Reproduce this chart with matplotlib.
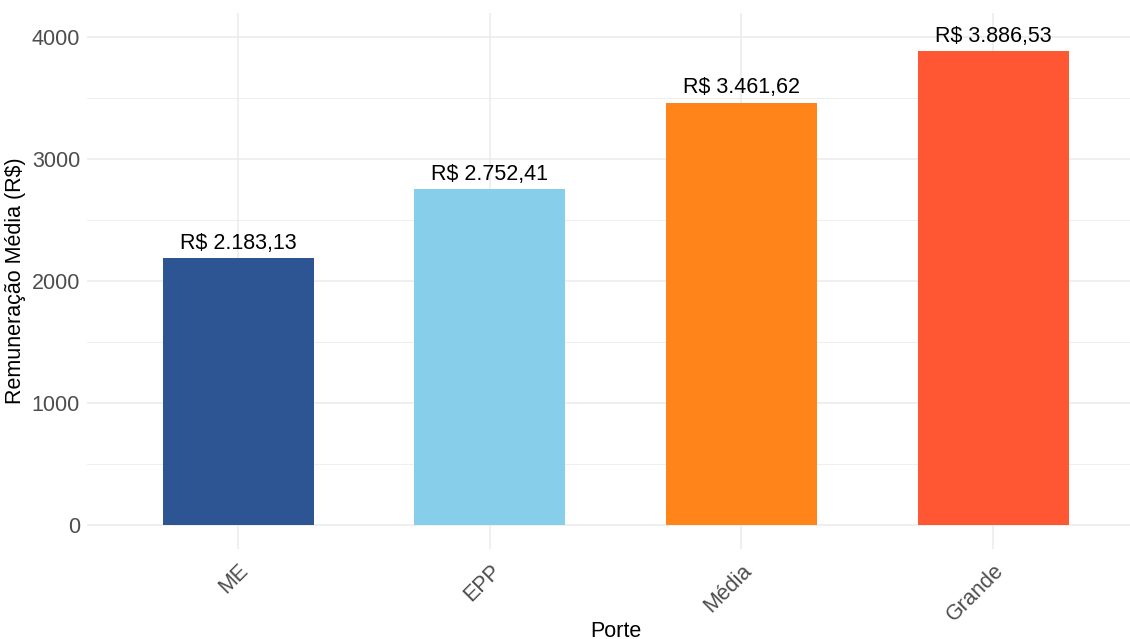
import matplotlib
matplotlib.use("Agg")
import matplotlib.pyplot as plt
from matplotlib.ticker import MultipleLocator

categories = ["ME", "EPP", "Média", "Grande"]
values = [2183.13, 2752.41, 3461.62, 3886.53]
colors = ["#2E5593", "#87CEEB", "#FF851B", "#FF5733"]
labels = ["R$ 2.183,13", "R$ 2.752,41", "R$ 3.461,62", "R$ 3.886,53"]
yticks = [0, 1000, 2000, 3000, 4000]

plt.rcParams['font.family'] = ['Liberation Sans', 'DejaVu Sans']

fig = plt.figure(figsize=(11.3, 6.39), dpi=100)
ax = fig.add_axes([87/1130, 1 - 549/639, (1144 - 87)/1130, (549 - 13)/639])

pos = list(range(1, len(categories) + 1))
ax.bar(pos, values, width=0.6, color=colors, zorder=3)
for x, v, t in zip(pos, values, labels):
    ax.annotate(t, (x, v), xytext=(0, 3), textcoords="offset points",
                ha="center", va="bottom", fontsize=15.5, color="black", zorder=4)

ax.set_xlim(0.4, 4.6)
ax.set_ylim(-200, 4197)
ax.set_xticks(pos)
ax.set_xticklabels(categories, rotation=45, ha="right", va="top",
                   rotation_mode="anchor", fontsize=15.5, color="#4D4D4D")
ax.set_yticks(yticks)
ax.set_yticklabels([str(t) for t in yticks], fontsize=15.5, color="#4D4D4D")
ax.yaxis.set_minor_locator(MultipleLocator(500))
ax.tick_params(axis="both", which="both", length=0)
ax.tick_params(axis="x", pad=8)
ax.tick_params(axis="y", pad=5)

ax.grid(True, which="major", color="#EBEBEB", linewidth=1.1, zorder=0)
ax.grid(True, which="minor", axis="y", color="#EBEBEB", linewidth=0.6, zorder=0)
ax.set_axisbelow(True)
for s in ax.spines.values():
    s.set_visible(False)

ax.set_ylabel("Remuneração Média (R$)", fontsize=15.5, color="black", labelpad=4)
fig.text((87 + 1144) / 2 / 1130, 1 - 621/639, "Porte", ha="center", va="top",
         fontsize=15.5, color="black")

fig.savefig("out.png", dpi=100, facecolor="white")
